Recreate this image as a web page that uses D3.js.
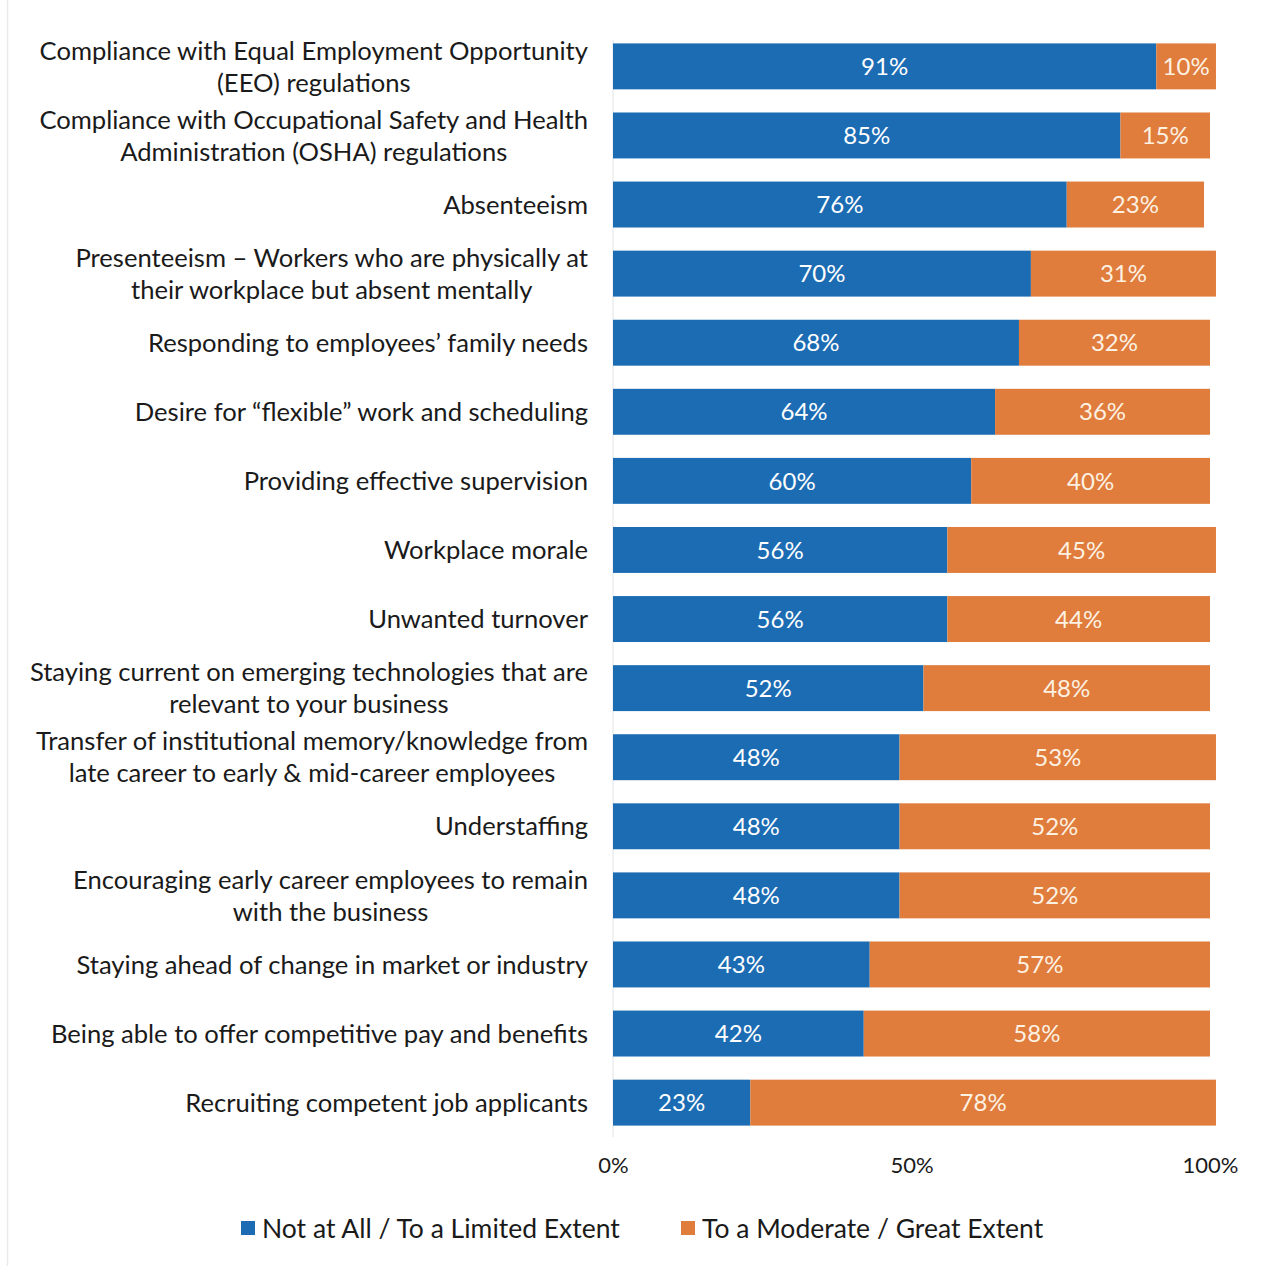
<!DOCTYPE html>
<html>
<head>
<meta charset="utf-8">
<script src="https://cdn.jsdelivr.net/npm/d3@7"></script>
<style>
  html, body { margin: 0; padding: 0; background: #fff; }
  svg { display: block; }
  text { font-family: Lato, "Open Sans", sans-serif; }
</style>
</head>
<body>
<svg id="chart" width="1267" height="1266"></svg>
<script>
// Category labels, one array entry per bar; "\n" splits a label over two lines.
const categories = [
  "Compliance with Equal Employment Opportunity\n(EEO) regulations",
  "Compliance with Occupational Safety and Health\nAdministration (OSHA) regulations",
  "Absenteeism",
  "Presenteeism \u2013 Workers who are physically at\ntheir workplace but absent mentally",
  "Responding to employees\u2019 family needs",
  "Desire for \u201cflexible\u201d work and scheduling",
  "Providing effective supervision",
  "Workplace morale",
  "Unwanted turnover",
  "Staying current on emerging technologies that are\nrelevant to your business",
  "Transfer of institutional memory/knowledge from\nlate career to early & mid-career employees",
  "Understaffing",
  "Encouraging early career employees to remain\nwith the business",
  "Staying ahead of change in market or industry",
  "Being able to offer competitive pay and benefits",
  "Recruiting competent job applicants"
];

// Share of respondents, percent
const limitedValues  = [91, 85, 76, 70, 68, 64, 60, 56, 56, 52, 48, 48, 48, 43, 42, 23];
const moderateValues = [10, 15, 23, 31, 32, 36, 40, 45, 44, 48, 53, 52, 52, 57, 58, 78];

const seriesNames = ["Not at All / To a Limited Extent", "To a Moderate / Great Extent"];
const seriesColors = ["#1c6cb4", "#e07c3c"];
const seriesTextColors = ["#ffffff", "#fdf1e2"];

const tickValues = [0, 50, 100];

const rows = categories.map((c, i) => ({
  label: c,
  parts: [
    { key: 0, x0: 0, x1: limitedValues[i], v: limitedValues[i] },
    { key: 1, x0: limitedValues[i], x1: limitedValues[i] + moderateValues[i], v: moderateValues[i] }
  ]
}));

const svg = d3.select("#chart");

const plot = { left: 613, right: 1210, top: 32, bottom: 1137 };
const labelRight = plot.left - 25;

const x = d3.scaleLinear().domain([0, 100]).range([plot.left, plot.right]);
const y = d3.scaleBand()
  .domain(categories)
  .range([plot.top, plot.bottom])
  .paddingInner(0.335)
  .paddingOuter(0.165);

// page frame edge on the left
svg.append("line")
  .attr("x1", 7.5).attr("x2", 7.5)
  .attr("y1", 0).attr("y2", 1266)
  .attr("stroke", "#ececec").attr("stroke-width", 1.5);

// faint vertical baseline at 0%
svg.append("line")
  .attr("x1", x(0)).attr("x2", x(0))
  .attr("y1", plot.top + 8).attr("y2", plot.bottom)
  .attr("stroke", "#e3e3e3").attr("stroke-width", 1);

const rowG = svg.append("g").selectAll("g")
  .data(rows)
  .join("g")
  .attr("transform", d => `translate(0,${y(d.label)})`);

rowG.selectAll("rect")
  .data(d => d.parts)
  .join("rect")
  .attr("x", p => x(p.x0))
  .attr("width", p => x(p.x1) - x(p.x0))
  .attr("y", 0)
  .attr("height", y.bandwidth())
  .attr("fill", p => seriesColors[p.key]);

rowG.selectAll("text.val")
  .data(d => d.parts)
  .join("text")
  .attr("class", "val")
  .attr("x", p => (x(p.x0) + x(p.x1)) / 2)
  .attr("y", y.bandwidth() / 2)
  .attr("dy", "0.36em")
  .attr("text-anchor", "middle")
  .attr("font-size", 24)
  .attr("fill", p => seriesTextColors[p.key])
  .text(p => p.v + "%");

// category labels: each block sits against the bars, lines centred within the block
rowG.append("text")
  .attr("class", "cat")
  .attr("text-anchor", "middle")
  .attr("font-size", 25.6)
  .attr("fill", "#1a1a1a")
  .each(function(d) {
    const lines = d.label.split("\n");
    const lh = 32;
    const mid = y.bandwidth() / 2;
    const start = mid - (lines.length - 1) * lh / 2;
    const t = d3.select(this);
    const spans = t.selectAll("tspan")
      .data(lines)
      .join("tspan")
      .attr("y", (l, i) => start + i * lh)
      .attr("dy", "0.36em")
      .text(l => l);
    let maxW = 0;
    spans.each(function() { maxW = Math.max(maxW, this.getComputedTextLength()); });
    spans.attr("x", labelRight - maxW / 2);
  });

// x axis labels
const axis = d3.axisBottom(x)
  .tickValues(tickValues)
  .tickFormat(d => d + "%")
  .tickSize(0)
  .tickPadding(0);

const axisG = svg.append("g")
  .attr("transform", `translate(0,${plot.bottom + 36})`)
  .call(axis);
axisG.select(".domain").remove();
axisG.selectAll("text")
  .attr("font-size", 22)
  .attr("fill", "#1a1a1a")
  .attr("font-family", "Lato, sans-serif")
  .attr("dy", "0");

// legend
const legendItems = [
  { name: seriesNames[0], color: seriesColors[0], x: 241 },
  { name: seriesNames[1], color: seriesColors[1], x: 681 }
];
const legend = svg.append("g").attr("transform", "translate(0,1228)");
const li = legend.selectAll("g")
  .data(legendItems)
  .join("g")
  .attr("transform", d => `translate(${d.x},0)`);
li.append("rect")
  .attr("x", 0).attr("y", -7)
  .attr("width", 14).attr("height", 14)
  .attr("fill", d => d.color);
li.append("text")
  .attr("x", 21)
  .attr("y", 0)
  .attr("dy", "0.36em")
  .attr("font-size", 26.5)
  .attr("fill", "#1a1a1a")
  .text(d => d.name);
</script>
</body>
</html>
